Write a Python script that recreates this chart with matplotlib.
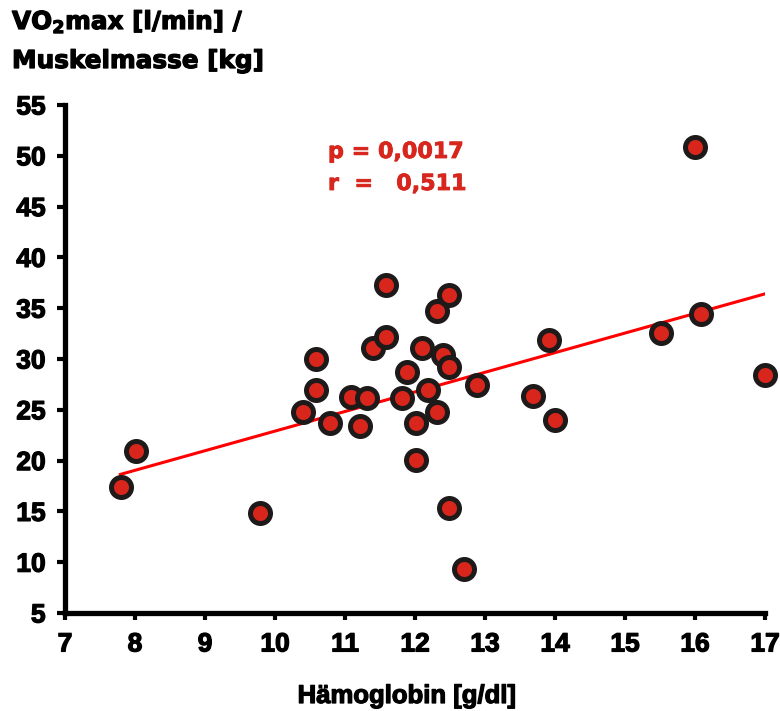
import matplotlib
matplotlib.use("Agg")
import matplotlib.pyplot as plt
import matplotlib.patheffects as pe

# data
haemoglobin = [7.80, 8.02, 9.79, 10.40, 10.59, 10.59, 10.79, 11.09, 11.21, 11.32,
               11.40, 11.59, 11.58, 11.81, 11.88, 12.01, 12.01, 12.10, 12.19, 12.31,
               12.31, 12.40, 12.49, 12.49, 12.49, 12.70, 12.88, 13.69, 13.91, 14.00,
               15.51, 16.00, 16.08, 17.00]
vo2_per_muscle = [17.4, 20.9, 14.8, 24.8, 30.0, 26.9, 23.7, 26.3, 23.4, 26.2,
                  31.1, 37.3, 32.2, 26.2, 28.7, 23.7, 20.1, 31.1, 26.9, 34.7,
                  24.8, 30.4, 36.3, 29.2, 15.3, 9.3, 27.4, 26.4, 31.9, 24.0,
                  32.6, 50.9, 34.4, 28.4]

# regression line as drawn
fit_x = [7.77, 17.02]
fit_y = [18.6, 36.45]

x_ticks = list(range(7, 18))
y_ticks = list(range(5, 56, 5))

red_text = "#d7261e"
tick_font = "Liberation Sans"
label_font = "DejaVu Sans"
plt.rcParams["mathtext.fontset"] = "dejavusans"

# slightly heavier strokes, the original uses a black-weight font
heavy = [pe.withStroke(linewidth=0.9, foreground="black")]
heavy_red = [pe.withStroke(linewidth=0.6, foreground=red_text)]

W, H = 780, 711
fig = plt.figure(figsize=(W / 100, H / 100), dpi=100)
ax = fig.add_axes([65 / W, (H - 613) / H, (765 - 65) / W, (613 - 105) / H])

ax.plot(fit_x, fit_y, color="#ff0000", lw=2.2, zorder=2, solid_capstyle="butt")
ax.plot(haemoglobin, vo2_per_muscle, linestyle="none", marker="o",
        markersize=14.4, markeredgewidth=3.6,
        markerfacecolor="#d9261c", markeredgecolor="#1e1a1a",
        zorder=3, clip_on=False)

ax.set_xlim(7, 17)
ax.set_ylim(5, 55)
ax.set_xticks(x_ticks)
ax.set_yticks(y_ticks)
ax.set_xticklabels([str(v) for v in x_ticks], fontfamily=tick_font,
                   fontweight="bold", fontsize=19)
ax.set_yticklabels([str(v) for v in y_ticks], fontfamily=tick_font,
                   fontweight="bold", fontsize=19)
for lab in ax.get_xticklabels() + ax.get_yticklabels():
    lab.set_path_effects(heavy)

for s in ["top", "right"]:
    ax.spines[s].set_visible(False)
for s in ["left", "bottom"]:
    ax.spines[s].set_linewidth(3.8)
    ax.spines[s].set_capstyle("projecting")

ax.tick_params(axis="x", direction="out", length=5, width=3, pad=9)
ax.tick_params(axis="y", direction="out", length=6, width=3, pad=8)

# axis titles
fig.text(12 / W, 1 - 29 / H, r"VO$_\mathbf{2}$max [l/min] /", fontfamily=label_font,
         fontweight="bold", fontsize=17.8, va="baseline", ha="left",
         path_effects=heavy)
fig.text(12 / W, 1 - 68 / H, "Muskelmasse [kg]", fontfamily=label_font,
         fontweight="bold", fontsize=17.8, va="baseline", ha="left",
         path_effects=heavy)
fig.text(407 / W, 1 - 703 / H, "Hämoglobin [g/dl]", fontfamily=tick_font,
         fontweight="bold", fontsize=18.5, va="baseline", ha="center",
         path_effects=heavy)

# statistics
fig.text(328 / W, 1 - 158 / H, "p = 0,0017", color=red_text,
         fontfamily=label_font, fontweight="bold", fontsize=16,
         va="baseline", ha="left", path_effects=heavy_red)
fig.text(328 / W, 1 - 190 / H, "r  =   0,511", color=red_text,
         fontfamily=label_font, fontweight="bold", fontsize=16,
         va="baseline", ha="left", path_effects=heavy_red)

fig.savefig("out.png", dpi=100)
